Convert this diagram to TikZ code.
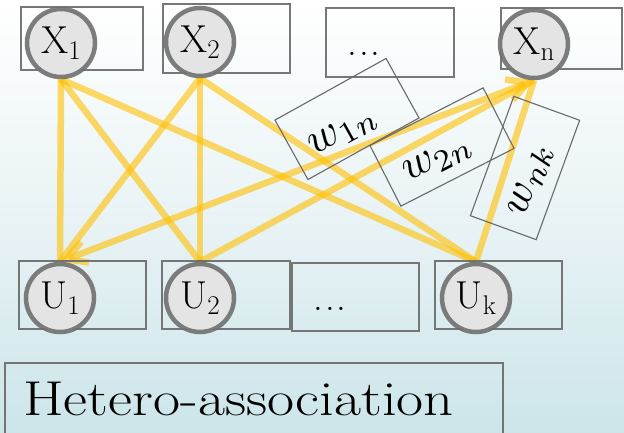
\documentclass[tikz,border=0pt]{standalone}
\usepackage{fontspec}
\usepackage{graphicx}
\usetikzlibrary{arrows.meta}

\definecolor{linkyellow}{RGB}{255,192,0}
\definecolor{ringgray}{RGB}{112,112,112}
\definecolor{nodefill}{RGB}{228,228,228}
\definecolor{boxgray}{RGB}{105,105,105}
\definecolor{bgbottom}{RGB}{204,229,233}
\definecolor{bgmid}{RGB}{233,243,245}

\pgfdeclarelayer{back}
\pgfdeclarelayer{links}
\pgfsetlayers{back,links,main}

% unit name with a lowered index
\newcommand{\unitname}[2]{#1\raisebox{-0.16em}{\fontsize{27}{28}\selectfont #2}}
\newcommand{\dotrow}{.\kern2pt.\kern2pt.}
% weight symbol, set low and to the left inside its box
\newcommand{\wlabel}[1]{\smash{\makebox[0pt]{\hspace*{-18pt}%
  \raisebox{-16pt}{\scalebox{4.4}{$w_{#1}$}}}}}

\begin{document}
\begin{tikzpicture}[x=1pt,y=-1pt,
  cellbox/.style={draw=boxgray,line width=1.3pt,draw opacity=0.9},
  unit/.style={circle,draw=ringgray,line width=4.5pt,draw opacity=0.9,
    fill=nodefill,minimum size=68pt,inner sep=0pt,
    font=\fontsize{39}{40}\selectfont},
  weightbox/.style={draw=boxgray,line width=1.1pt,minimum width=127pt,
    minimum height=68pt,inner sep=0pt},
  link/.style={draw=linkyellow,line width=6.5pt,draw opacity=0.6},
  biglabel/.style={inner sep=0pt,font=\fontsize{39}{40}\selectfont}
]
\useasboundingbox (0,0) rectangle (624,433);

% background
\begin{pgfonlayer}{back}
  \shade[top color=white,bottom color=bgbottom,middle color=bgmid]
    (0,0) rectangle (624,433);
\end{pgfonlayer}

% cell boxes of the two layers
\draw[cellbox] (21,7) rectangle (143,70);
\draw[cellbox] (163,4) rectangle (290,73);
\draw[cellbox] (326,8) rectangle (454,77);
\draw[cellbox] (501,8) rectangle (622,69);
\draw[cellbox] (19,261) rectangle (146,329);
\draw[cellbox] (162,261) rectangle (290,329);
\draw[cellbox] (292,263) rectangle (419,331);
\draw[cellbox] (435,261) rectangle (562,329);

% input units
\node[unit] (X1) at (61,43) {\unitname{X}{1}};
\node[unit] (X2) at (200,42) {\unitname{X}{2}};
\node[unit] (Xn) at (534,44) {\unitname{X}{n}};
\node[biglabel,anchor=base] (xdots) at (364,56) {\dotrow};

% output units
\node[unit] (U1) at (60,298) {\unitname{U}{1}};
\node[unit] (U2) at (200,298) {\unitname{U}{2}};
\node[unit] (Uk) at (476,298) {\unitname{U}{k}};
\node[biglabel,anchor=base] (udots) at (330,310) {\dotrow};

% connections
\begin{pgfonlayer}{links}
  \draw[link] (X1.south) -- (U1.north);
  \draw[link] (X1.south) -- (U2.north);
  \draw[link] (X1.south) -- (Uk.north);
  \draw[link] (X2.south) -- (U1.north);
  \draw[link] (X2.south) -- (U2.north);
  \draw[link] (X2.south) -- (Uk.north);
  \draw[link,{Straight Barb[length=20pt,width=22pt]}-{Straight Barb[length=20pt,width=22pt]}]
    (U1.north) -- (Xn.south);
  \draw[link] (U2.north) -- (Xn.south);
  \draw[link] (Uk.north) -- (Xn.south);
\end{pgfonlayer}

% weights
\node[weightbox,rotate=29] (w1n) at (347,119) {\wlabel{1n}};
\node[weightbox,rotate=27] (w2n) at (442,147) {\wlabel{2n}};
\node[weightbox,minimum height=70pt,rotate=70] (wnk) at (525,168) {\wlabel{nk}};

% caption box
\draw[cellbox] (5,363) rectangle (503,440);
\node[anchor=base west,inner sep=0pt,font=\fontsize{49}{52}\selectfont]
  (title) at (23,415) {\scalebox{1.2}[1]{Hetero-association}};
\end{tikzpicture}
\end{document}
